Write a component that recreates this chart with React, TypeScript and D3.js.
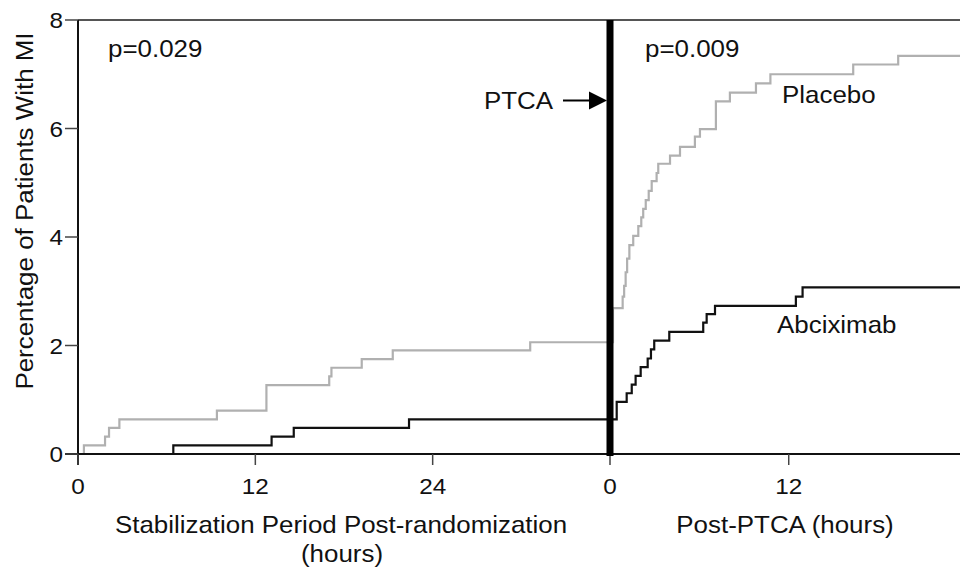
import * as d3 from "d3";

// cumulative % of patients with MI
const placeboPreHours = [0, 0.4, 1.83, 2.1, 2.8, 9.4, 12.75, 17.0, 17.15, 19.2, 21.3, 30.6, 36];
const placeboPrePct = [0, 0.16, 0.32, 0.48, 0.64, 0.8, 1.27, 1.43, 1.59, 1.75, 1.91, 2.06, 2.06];
const abcixPreHours = [0, 6.45, 13.1, 14.6, 22.4, 36];
const abcixPrePct = [0, 0.16, 0.32, 0.48, 0.64, 0.64];

const placeboPostHours = [0, 0.2, 0.85, 0.95, 1.05, 1.15, 1.3, 1.56, 1.9, 2.1, 2.23, 2.4, 2.6, 2.8, 3.13, 3.24, 4.03, 4.7, 5.7, 6.04, 7.11, 8.05, 9.8, 10.77, 16.33, 19.35, 23.5];
const placeboPostPct = [2.06, 2.69, 2.9, 3.1, 3.35, 3.6, 3.85, 4.02, 4.2, 4.36, 4.52, 4.68, 4.85, 5.03, 5.18, 5.35, 5.5, 5.66, 5.85, 5.99, 6.5, 6.66, 6.83, 7.0, 7.18, 7.34, 7.34];
const abcixPostHours = [0, 0.45, 1.12, 1.46, 1.72, 2.06, 2.53, 2.75, 2.97, 3.98, 6.26, 6.49, 7.05, 12.48, 12.93, 23.5];
const abcixPostPct = [0.64, 0.96, 1.12, 1.28, 1.44, 1.6, 1.76, 1.93, 2.09, 2.25, 2.42, 2.58, 2.73, 2.9, 3.07, 3.07];

const yTicks = [0, 2, 4, 6, 8];
const preTicks = [0, 12, 24];
const postTicks = [0, 12];

const W = 960;
const H = 569;
const FONT = "'Liberation Sans', Arial, Helvetica, sans-serif";
const SX = 1.08; // the figure's text is slightly wide

const y = d3.scaleLinear().domain([0, 8]).range([454, 20]);
const xPre = d3.scaleLinear().domain([0, 36]).range([78, 610]);
const xPost = d3.scaleLinear().domain([0, 23.5]).range([610, 960]);

const stepPath = (hours: number[], pct: number[], x: d3.ScaleLinear<number, number>) =>
  d3
    .line<number>()
    .x((_, i) => x(hours[i]))
    .y((v) => y(v))
    .curve(d3.curveStepAfter)(pct) || "";

function T({ x, y, size, anchor = "start", children, rotate = 0 }: any) {
  return (
    <text
      transform={`translate(${x},${y}) rotate(${rotate}) scale(${SX},1)`}
      fontSize={size}
      fontFamily={FONT}
      textAnchor={anchor}
      fill="#111"
    >
      {children}
    </text>
  );
}

export default function App() {
  const x0 = xPre(0);
  const xb = xPre(36);
  return (
    <svg width={W} height={H} style={{ position: "absolute", left: 0, top: 0, background: "#fff" }}>
      {/* top frame */}
      <line x1={x0} x2={W} y1={y(8)} y2={y(8)} stroke="#555" strokeWidth={2} />

      {/* curves */}
      <path d={stepPath(placeboPreHours, placeboPrePct, xPre)} fill="none" stroke="#b0b0b0" strokeWidth={2.2} />
      <path d={stepPath(placeboPostHours, placeboPostPct, xPost)} fill="none" stroke="#b0b0b0" strokeWidth={2.2} />
      <path d={stepPath(abcixPreHours, abcixPrePct, xPre)} fill="none" stroke="#111" strokeWidth={2.2} />
      <path d={stepPath(abcixPostHours, abcixPostPct, xPost)} fill="none" stroke="#111" strokeWidth={2.2} />

      {/* axes */}
      <line x1={x0} x2={x0} y1={y(8)} y2={y(0) + 11} stroke="#111" strokeWidth={2} />
      <line x1={x0 - 13} x2={W} y1={y(0)} y2={y(0)} stroke="#111" strokeWidth={2} />
      {yTicks.map((t) => (
        <g key={t}>
          <line x1={x0 - 13} x2={x0} y1={y(t)} y2={y(t)} stroke="#444" strokeWidth={1.5} />
          <T x={x0 - 15} y={y(t) + 8} size={22.5} anchor="end">{t}</T>
        </g>
      ))}
      {preTicks.map((t) => (
        <g key={"pre" + t}>
          <line x1={xPre(t)} x2={xPre(t)} y1={y(0)} y2={y(0) + 11} stroke="#444" strokeWidth={1.5} />
          <T x={xPre(t)} y={494} size={22.5} anchor="middle">{t}</T>
        </g>
      ))}
      {postTicks.map((t) => (
        <g key={"post" + t}>
          <line x1={xPost(t)} x2={xPost(t)} y1={y(0)} y2={y(0) + 11} stroke="#444" strokeWidth={1.5} />
          <T x={xPost(t)} y={494} size={22.5} anchor="middle">{t}</T>
        </g>
      ))}

      {/* PTCA bar */}
      <line x1={xb} x2={xb} y1={y(8)} y2={y(0) + 2} stroke="#000" strokeWidth={7} />
      <line x1={563} x2={592} y1={100.5} y2={100.5} stroke="#000" strokeWidth={2} />
      <path d={`M${xb - 3},100.5 L${xb - 21},91.5 L${xb - 21},109.5 Z`} fill="#000" />
      <T x={553} y={109} size={24} anchor="end">PTCA</T>

      {/* labels */}
      <T x={108} y={57} size={24}>p=0.029</T>
      <T x={645} y={57} size={24}>p=0.009</T>
      <T x={782} y={103} size={24}>Placebo</T>
      <T x={777} y={333} size={24}>Abciximab</T>

      <T x={33} y={211} size={24} anchor="middle" rotate={-90}>Percentage of Patients With MI</T>
      <T x={341} y={533} size={24} anchor="middle">Stabilization Period Post-randomization</T>
      <T x={342} y={562} size={24} anchor="middle">(hours)</T>
      <T x={785} y={533} size={24} anchor="middle">Post-PTCA (hours)</T>
    </svg>
  );
}
